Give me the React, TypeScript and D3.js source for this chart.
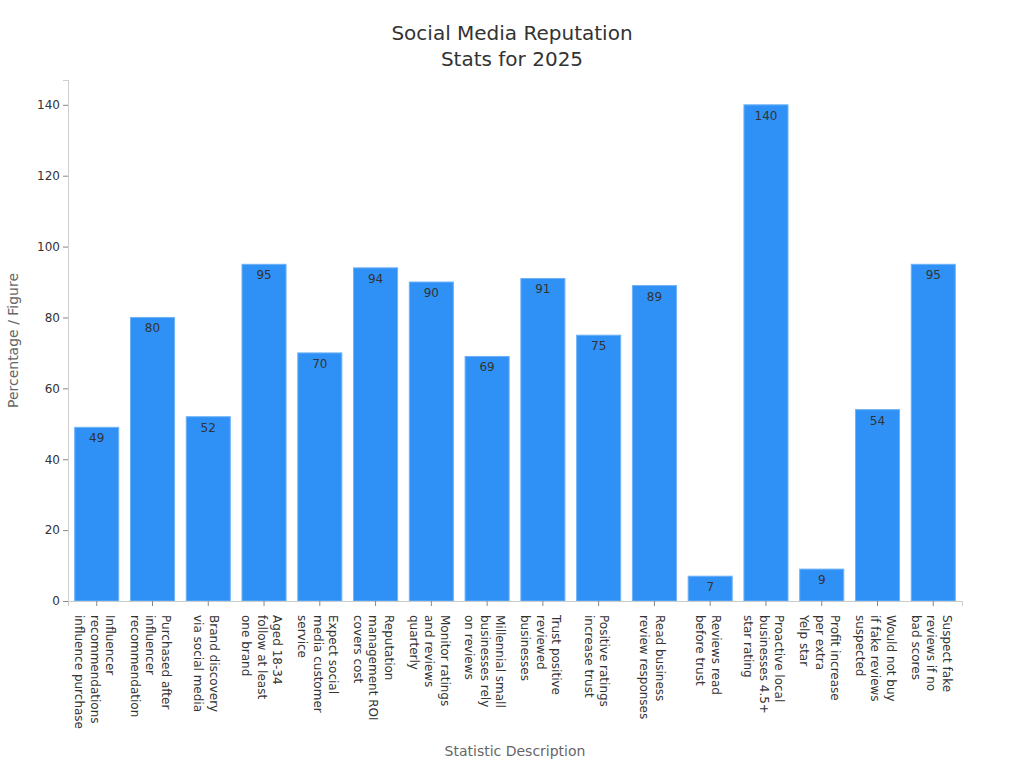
import { useEffect, useRef } from 'react';
import * as d3 from 'd3';

// category labels, already split into the lines shown under each bar
const categories: string[] = [
  'Influencer\nrecommendations\ninfluence purchase',
  'Purchased after\ninfluencer\nrecommendation',
  'Brand discovery\nvia social media',
  'Aged 18-34\nfollow at least\none brand',
  'Expect social\nmedia customer\nservice',
  'Reputation\nmanagement ROI\ncovers cost',
  'Monitor ratings\nand reviews\nquarterly',
  'Millennial small\nbusinesses rely\non reviews',
  'Trust positive\nreviewed\nbusinesses',
  'Positive ratings\nincrease trust',
  'Read business\nreview responses',
  'Reviews read\nbefore trust',
  'Proactive local\nbusinesses 4.5+\nstar rating',
  'Profit increase\nper extra\nYelp star',
  'Would not buy\nif fake reviews\nsuspected',
  'Suspect fake\nreviews if no\nbad scores',
];

const values: number[] = [49, 80, 52, 95, 70, 94, 90, 69, 91, 75, 89, 7, 140, 9, 54, 95];

const yTicks: number[] = [0, 20, 40, 60, 80, 100, 120, 140];

const titleLines: string[] = ['Social Media Reputation', 'Stats for 2025'];

const WIDTH = 1024;
const HEIGHT = 768;
const margin = { top: 80, right: 62, bottom: 167, left: 68 };

const BarChart = () => {
  const svgRef = useRef<SVGSVGElement>(null);

  useEffect(() => {
    const svg = d3.select(svgRef.current);
    svg.selectAll('*').remove();

    const innerW = WIDTH - margin.left - margin.right;
    const innerH = HEIGHT - margin.top - margin.bottom;

    const x = d3.scaleBand<number>()
      .domain(d3.range(categories.length))
      .range([0, innerW])
      .paddingInner(0.21)
      .paddingOuter(0.12);

    const y = d3.scaleLinear()
      .domain([0, d3.max(values)! * 1.05])
      .range([innerH, 0]);

    svg.attr('width', WIDTH).attr('height', HEIGHT)
      .style('font-family', '"DejaVu Sans", sans-serif');

    // title
    svg.append('text')
      .attr('x', WIDTH / 2)
      .attr('text-anchor', 'middle')
      .style('font-size', '20px')
      .style('fill', '#333')
      .selectAll('tspan')
      .data(titleLines)
      .enter()
      .append('tspan')
      .attr('x', WIDTH / 2)
      .attr('y', (_d, i) => 40 + i * 26)
      .text(d => d);

    const g = svg.append('g')
      .attr('transform', `translate(${margin.left},${margin.top})`);

    // bars
    g.selectAll('rect.bar')
      .data(values)
      .enter()
      .append('rect')
      .attr('class', 'bar')
      .attr('x', (_d, i) => x(i)!)
      .attr('y', d => y(d))
      .attr('width', x.bandwidth())
      .attr('height', d => innerH - y(d))
      .attr('fill', '#2f91f5')
      .attr('stroke', '#6fb2f7')
      .attr('stroke-width', 1);

    // value labels inside the top of each bar
    g.selectAll('text.value')
      .data(values)
      .enter()
      .append('text')
      .attr('class', 'value')
      .attr('x', (_d, i) => x(i)! + x.bandwidth() / 2)
      .attr('y', d => y(d) + 15)
      .attr('text-anchor', 'middle')
      .style('font-size', '12px')
      .style('fill', '#333')
      .text(d => d);

    // y axis
    const yAxis = g.append('g')
      .call(d3.axisLeft(y).tickValues(yTicks).tickSize(5).tickPadding(3));
    yAxis.select('.domain').attr('stroke', '#ccc');
    yAxis.selectAll('.tick line').attr('stroke', '#888');
    yAxis.selectAll('.tick text')
      .style('font-size', '12px')
      .style('fill', '#333')
      .style('font-family', '"DejaVu Sans", sans-serif');

    // x axis
    const xAxis = g.append('g')
      .attr('transform', `translate(0,${innerH})`)
      .call(d3.axisBottom(x).tickSize(5).tickFormat(() => ''));
    xAxis.select('.domain').attr('stroke', '#ccc');
    xAxis.selectAll('.tick line').attr('stroke', '#888');

    // rotated multi-line category labels
    const lineH = 15.5;
    categories.forEach((label, i) => {
      const lines = label.split('\n');
      const cx = x(i)! + x.bandwidth() / 2 - 2;
      const t = g.append('text')
        .attr('transform', `translate(${cx},${innerH + 14}) rotate(90)`)
        .style('font-size', '12px')
        .style('fill', '#333');
      lines.forEach((ln, j) => {
        t.append('tspan')
          .attr('x', 0)
          .attr('y', -((lines.length - 1) / 2) * lineH + j * lineH)
          .attr('dy', '0.35em')
          .text(ln);
      });
    });

    // axis titles
    svg.append('text')
      .attr('x', margin.left + innerW / 2)
      .attr('y', 756)
      .attr('text-anchor', 'middle')
      .style('font-size', '14px')
      .style('fill', '#666')
      .text('Statistic Description');

    svg.append('text')
      .attr('transform', `translate(18,${margin.top + innerH / 2}) rotate(-90)`)
      .attr('text-anchor', 'middle')
      .style('font-size', '14px')
      .style('fill', '#666')
      .text('Percentage / Figure');
  }, []);

  return <svg ref={svgRef} style={{ position: 'absolute', left: 0, top: 0 }}></svg>;
};

export default function App() {
  return <BarChart />;
}
